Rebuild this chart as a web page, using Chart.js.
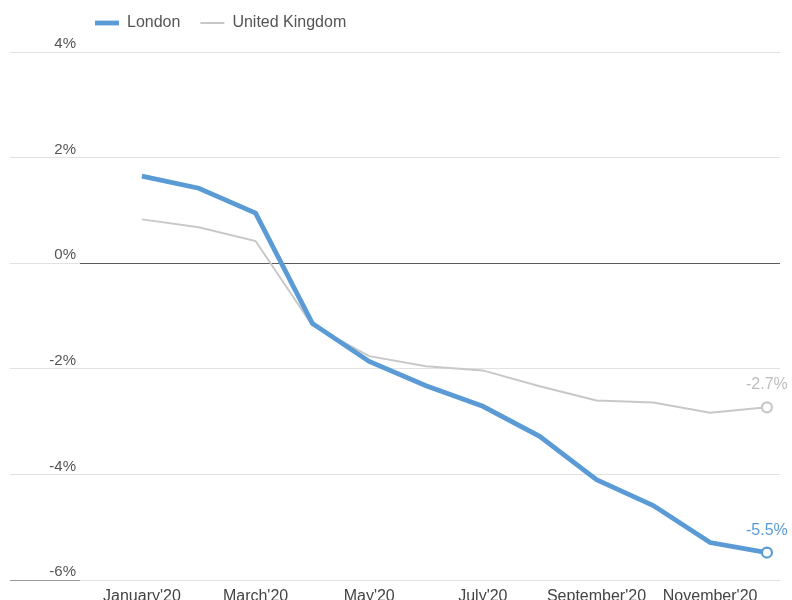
<!DOCTYPE html>
<html>
<head>
<meta charset="utf-8">
<script src="https://cdn.jsdelivr.net/npm/chart.js@4"></script>
<style>
  html, body { margin: 0; padding: 0; background: #fff; }
  #wrap { width: 792px; height: 600px; }
</style>
</head>
<body>
<div id="wrap"><canvas id="chart" width="792" height="600"></canvas></div>
<script>
// month index -> label, only every second month gets a tick
const months = ["January'20", "February'20", "March'20", "April'20", "May'20", "June'20",
                "July'20", "August'20", "September'20", "October'20", "November'20", "December'20"];
const xTicks = [0, 2, 4, 6, 8, 10];
const yTicks = [4, 2, 0, -2, -4, -6];

// annual change, %
const london = [1.65, 1.42, 0.95, -1.14, -1.86, -2.32, -2.71, -3.28, -4.10, -4.59, -5.29, -5.48];
const uk     = [0.83, 0.68, 0.42, -1.18, -1.76, -1.95, -2.03, -2.33, -2.60, -2.64, -2.83, -2.73];

const blue = '#5b9bd5';
const grey = '#c8c8c8';

Chart.defaults.font.family = '"Liberation Sans", Arial, sans-serif';
Chart.defaults.font.size = 15;
Chart.defaults.color = '#555';

const toPts = arr => arr.map((v, i) => ({ x: i, y: v }));
const lastOnly = n => ctx => ctx.dataIndex === n - 1 ? 5 : 0;

// pushes the legend right and leaves a gap under it
const legendTweak = {
  id: 'legendTweak',
  afterInit(chart) {
    const lg = chart.legend;
    const fit = lg.fit;
    lg.fit = function () { fit.call(this); this.height += 11; };
  },
  afterLayout(chart) {
    chart.legend.left += 65;
    chart.legend.right += 65;
  }
};

// value over the last point of each line
const endLabels = {
  id: 'endLabels',
  afterDatasetsDraw(chart) {
    const ctx = chart.ctx;
    chart.data.datasets.forEach((ds, i) => {
      const meta = chart.getDatasetMeta(i);
      const el = meta.data[meta.data.length - 1];
      const v = ds.data[ds.data.length - 1].y;
      ctx.save();
      ctx.font = '16px "Liberation Sans", Arial, sans-serif';
      ctx.fillStyle = ds.labelColor;
      ctx.textAlign = 'center';
      ctx.textBaseline = 'alphabetic';
      ctx.fillText(v.toFixed(1) + '%', el.x, el.y - 18);
      ctx.restore();
    });
  }
};

new Chart(document.getElementById('chart').getContext('2d'), {
  type: 'line',
  data: {
    datasets: [
      {
        label: 'London', data: toPts(london), borderColor: blue, borderWidth: 4.8,
        labelColor: '#5b9bd5',
        pointRadius: lastOnly(london.length), pointBackgroundColor: '#fff',
        pointBorderColor: blue, pointBorderWidth: 2.2, tension: 0, order: 1
      },
      {
        label: 'United Kingdom', data: toPts(uk), borderColor: grey, borderWidth: 2,
        labelColor: '#bdbdbd',
        pointRadius: lastOnly(uk.length), pointBackgroundColor: '#fff',
        pointBorderColor: grey, pointBorderWidth: 2.2, tension: 0, order: 2
      }
    ]
  },
  options: {
    responsive: false,
    animation: false,
    layout: { padding: { left: 10, right: 12, top: -5, bottom: 0 } },
    plugins: {
      legend: {
        position: 'top', align: 'start',
        labels: {
          usePointStyle: true, pointStyle: 'line', pointStyleWidth: 24,
          padding: 20, color: '#555', font: { size: 16 },
          generateLabels: chart => {
            const items = Chart.defaults.plugins.legend.labels.generateLabels(chart);
            items.forEach(it => {
              const ds = chart.data.datasets[it.datasetIndex];
              it.lineWidth = ds.borderWidth;
              it.strokeStyle = ds.borderColor;
            });
            return items;
          }
        }
      },
      tooltip: { enabled: false }
    },
    scales: {
      x: {
        type: 'linear', min: -1.09, max: 11.23,
        grid: { display: false }, border: { display: false },
        afterBuildTicks: s => { s.ticks = xTicks.map(v => ({ value: v })); },
        afterFit: s => { s.height = 20; },
        ticks: {
          autoSkip: false, maxRotation: 0, padding: -1, color: '#444', font: { size: 16 },
          callback: v => months[v]
        }
      },
      y: {
        min: -6, max: 4,
        afterBuildTicks: s => { s.ticks = yTicks.map(v => ({ value: v })); },
        afterFit: s => { s.width = 70; },
        border: { display: false },
        grid: {
          drawTicks: true, tickLength: 70,
          color: c => c.tick.value === 0 ? '#5a5a5a' : '#e2e2e2',
          tickColor: c => c.tick.value === -6 ? '#999' : '#e2e2e2'
        },
        ticks: {
          padding: -66, labelOffset: -8, color: '#555',
          callback: v => v + '%'
        }
      }
    }
  },
  plugins: [legendTweak, endLabels]
});
</script>
</body>
</html>
